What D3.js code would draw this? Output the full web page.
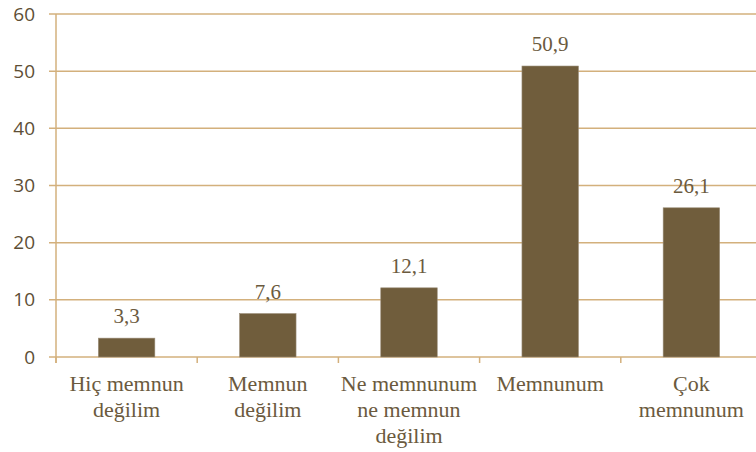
<!DOCTYPE html>
<html><head><meta charset="utf-8">
<script src="https://cdn.jsdelivr.net/npm/d3@7"></script>
</head><body style="margin:0">
<svg id="c" width="756" height="452"></svg>
<script>
const categories = [["Hiç memnun","değilim"],["Memnun","değilim"],["Ne memnunum","ne memnun","değilim"],["Memnunum"],["Çok","memnunum"]];
const values = [3.3, 7.6, 12.1, 50.9, 26.1];
const valueLabels = ["3,3","7,6","12,1","50,9","26,1"];
const yTicks = [0,10,20,30,40,50,60];

(function(){
const svg = d3.select("#c");
const mLeft = 56, mRight = 762, mTop = 14, mBottom = 357;
const grid = "#d3b07c", txt = "#6b5a3e", bar = "#705d3c";
const x = d3.scaleBand().domain(d3.range(values.length)).range([mLeft, mRight]).paddingInner(0.6).paddingOuter(0.3);
const xb = d3.scaleBand().domain(d3.range(values.length)).range([mLeft, mRight]);
const y = d3.scaleLinear().domain([0,60]).range([mBottom, mTop]);

svg.append("g").selectAll("line").data(yTicks).join("line")
  .attr("x1", mLeft-7).attr("x2", mRight).attr("y1", d=>y(d)).attr("y2", d=>y(d))
  .attr("stroke", grid).attr("stroke-width", 1.5);
svg.append("line").attr("x1", mLeft).attr("x2", mLeft).attr("y1", mTop).attr("y2", mBottom+6)
  .attr("stroke", grid).attr("stroke-width", 1.5);
svg.append("g").selectAll("line").data(d3.range(values.length+1)).join("line")
  .attr("x1", d=>mLeft + d*xb.bandwidth()).attr("x2", d=>mLeft + d*xb.bandwidth())
  .attr("y1", mBottom).attr("y2", mBottom+6).attr("stroke", grid).attr("stroke-width", 1.5);
svg.append("g").selectAll("text").data(yTicks).join("text")
  .attr("x", 35).attr("y", d=>y(d)).attr("dy", "0.35em").attr("text-anchor","end")
  .attr("font-size", 19).style("font-family", "'Open Sans'")
  .attr("fill", "#5e4e35").text(d=>d);
svg.append("g").selectAll("rect").data(values).join("rect")
  .attr("x", (d,i)=>x(i)).attr("width", x.bandwidth())
  .attr("y", d=>y(d)).attr("height", d=>y(0)-y(d))
  .attr("fill", bar).attr("stroke","#9a8d78").attr("stroke-width",0.6);
svg.append("g").selectAll("text").data(valueLabels).join("text")
  .attr("x", (d,i)=>x(i)+x.bandwidth()/2).attr("y", (d,i)=>y(values[i])-15)
  .attr("text-anchor","middle").attr("font-size", 21).style("font-family", "'Tinos'")
  .attr("fill", txt).text(d=>d);
categories.forEach((lines,i)=>{
  svg.append("g").selectAll("text").data(lines).join("text")
    .attr("x", xb(i)+xb.bandwidth()/2).attr("y", (l,j)=>391 + j*26)
    .attr("text-anchor","middle").attr("font-size", 22).style("font-family", "'Tinos'")
    .attr("fill", txt).text(l=>l);
});
})();
</script>
</body></html>
